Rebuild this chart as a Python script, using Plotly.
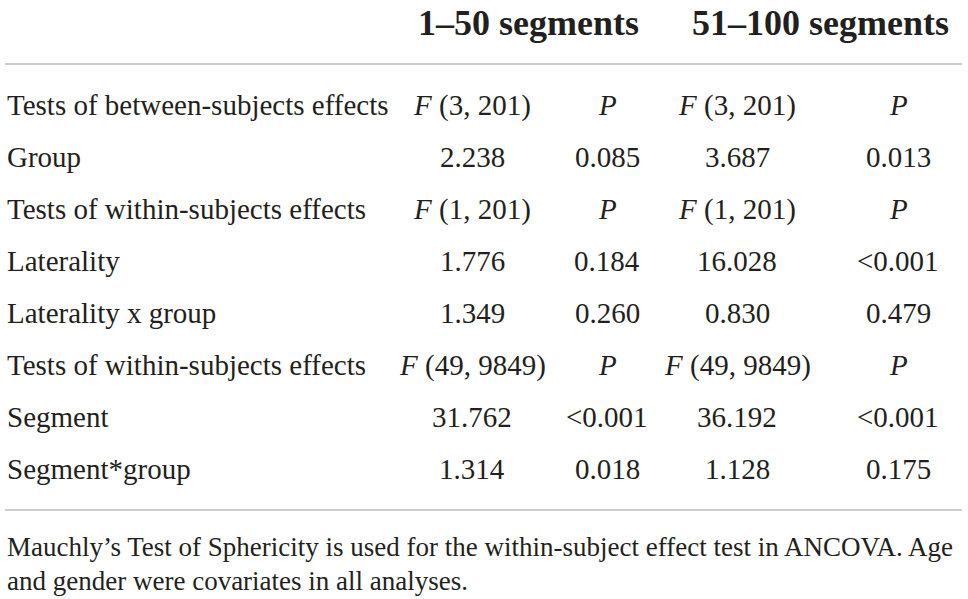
import plotly.graph_objs as go

# table contents
row_labels = ['Tests of between-subjects effects', 'Group',
              'Tests of within-subjects effects', 'Laterality', 'Laterality x group',
              'Tests of within-subjects effects', 'Segment', 'Segment*group']
f_1_50 = ['<i>F</i> (3, 201)', '2.238', '<i>F</i> (1, 201)', '1.776', '1.349',
          '<i>F</i> (49, 9849)', '31.762', '1.314']
p_1_50 = ['<i>P</i>', '0.085', '<i>P</i>', '0.184', '0.260', '<i>P</i>', '<0.001', '0.018']
f_51_100 = ['<i>F</i> (3, 201)', '3.687', '<i>F</i> (1, 201)', '16.028', '0.830',
            '<i>F</i> (49, 9849)', '36.192', '1.128']
p_51_100 = ['<i>P</i>', '0.013', '<i>P</i>', '<0.001', '0.479', '<i>P</i>', '<0.001', '0.175']
headers = ['1–50 segments', '51–100 segments']
footnote = ['Mauchly’s Test of Sphericity is used for the within-subject effect test in ANCOVA. Age',
            'and gender were covariates in all analyses.']

FONT = 'Liberation Serif'
TXT = '#231f20'
col_x = [472, 607, 737, 898]
row_y = [105 + 52 * i for i in range(len(row_labels))]


def esc(s):
    return s.replace('<0', '&lt;0')


fig = go.Figure()
fig.add_trace(go.Scatter(x=[10, 960], y=[10, 590], mode='markers',
                         marker=dict(opacity=0), hoverinfo='skip', showlegend=False))

ann = []
for hx, h in zip([528, 820], headers):
    ann.append(dict(x=hx, y=23, text='<b>' + h + '</b>', xanchor='center',
                    font=dict(size=36, family=FONT, color=TXT)))
for i, y in enumerate(row_y):
    ann.append(dict(x=5, y=y, text=row_labels[i], xanchor='left',
                    font=dict(size=29, family=FONT, color=TXT)))
    for cx, col in zip(col_x, [f_1_50, p_1_50, f_51_100, p_51_100]):
        ann.append(dict(x=cx, y=y, text=esc(col[i]), xanchor='center',
                        font=dict(size=29, family=FONT, color=TXT)))
for j, line in enumerate(footnote):
    ann.append(dict(x=5, y=547 + 34 * j, text=line, xanchor='left',
                    font=dict(size=27, family=FONT, color=TXT)))
for a in ann:
    a.update(xref='x', yref='y', showarrow=False, yanchor='middle')

fig.update_layout(
    width=968, height=599,
    margin=dict(l=0, r=0, t=0, b=0),
    paper_bgcolor='white', plot_bgcolor='white',
    annotations=ann,
    shapes=[dict(type='line', xref='x', yref='y', x0=5, x1=962, y0=64, y1=64,
                 line=dict(color='#9a9a9a', width=1.2)),
            dict(type='line', xref='x', yref='y', x0=5, x1=962, y0=510, y1=510,
                 line=dict(color='#9a9a9a', width=1.2))],
)
fig.update_xaxes(range=[0, 968], visible=False, fixedrange=True)
fig.update_yaxes(range=[599, 0], visible=False, fixedrange=True)
# drop the page's default 8px body margin so the figure sits at the window corner
fig.write_html('out.html', config={'displayModeBar': False},
               post_script="document.body.style.margin='0';")
